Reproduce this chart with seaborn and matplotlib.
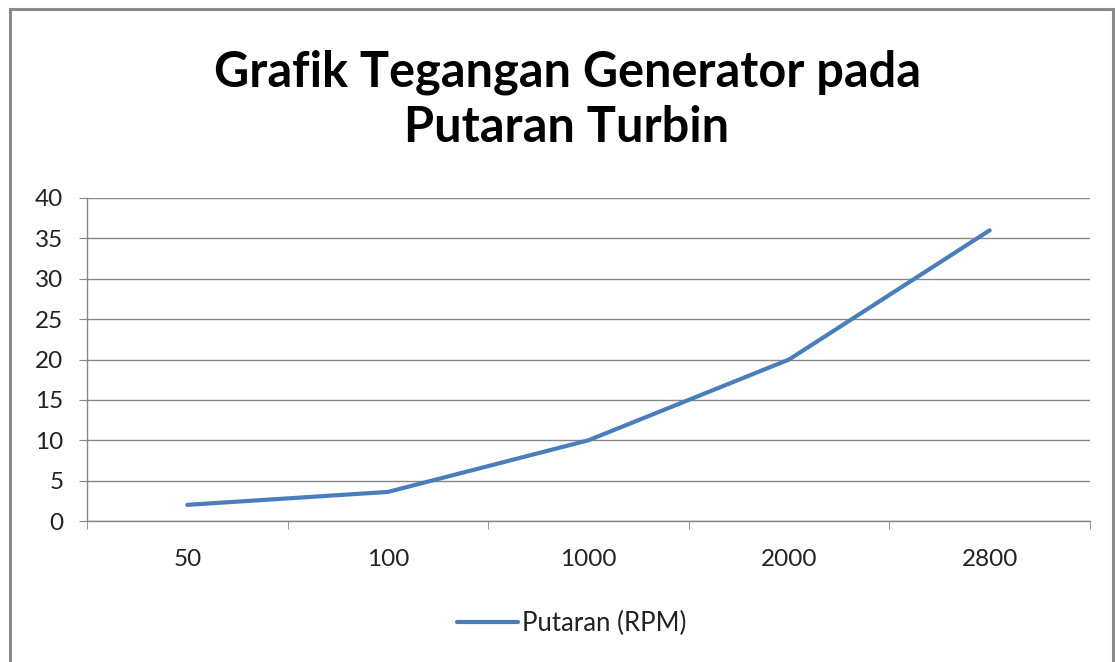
import matplotlib
matplotlib.use("Agg")
import matplotlib.pyplot as plt
import seaborn as sns
import pandas as pd
from matplotlib.patches import Rectangle
from matplotlib.ticker import FixedLocator

# values
rpm_labels = ["50", "100", "1000", "2000", "2800"]
tegangan = [2.0, 3.6, 10.0, 20.0, 36.0]
series_name = "Putaran (RPM)"

data = pd.DataFrame({"rpm": rpm_labels, "tegangan": tegangan})

sns.set_style("white")
plt.rcParams["font.family"] = ["Lato", "DejaVu Sans"]

W, H = 1115, 662
fig = plt.figure(figsize=(W / 100, H / 100), dpi=100)
ax = fig.add_axes([87 / W, 1 - 521 / H, 1003 / W, 323 / H])

# outer chart frame, cropped at right/bottom like the screenshot
fig.patches.append(Rectangle((10 / W, -0.02), (1113 - 10) / W, 1.02 - 8.5 / H,
                             transform=fig.transFigure, fill=False,
                             edgecolor="#8a8a8a", linewidth=2.2))

sns.lineplot(data=data, x="rpm", y="tegangan", ax=ax, color="#4a7ebb",
             linewidth=3, label=series_name, sort=False)

ax.set_xlim(-0.5, len(rpm_labels) - 0.5)
ax.set_ylim(0, 40)
ax.set_yticks(range(0, 41, 5))
ax.set_xlabel("")
ax.set_ylabel("")

# gridlines and axes in Excel gray
ax.yaxis.grid(True, color="#868686", linewidth=1)
ax.xaxis.grid(False)
for side in ["top", "right"]:
    ax.spines[side].set_visible(False)
for side in ["left", "bottom"]:
    ax.spines[side].set_color("#868686")
    ax.spines[side].set_linewidth(1)

ax.tick_params(axis="y", length=6, color="#868686", labelsize=17.5, pad=11,
               left=True, labelcolor="#222222")
ax.tick_params(axis="x", which="major", length=0, labelsize=17.5, pad=20,
               labelcolor="#222222")
ax.xaxis.set_minor_locator(FixedLocator([i - 0.5 for i in range(len(rpm_labels) + 1)]))
ax.tick_params(axis="x", which="minor", length=6, color="#868686", bottom=True)

fig.text(567 / W, 1 - 100 / H, "Grafik Tegangan Generator pada\nPutaran Turbin",
         fontsize=35, fontweight="bold", ha="center", va="center",
         linespacing=1.28, color="black")

ax.legend(loc="center", bbox_to_anchor=(0.483, -0.318), frameon=False,
          fontsize=18.5, handlelength=2.4, handletextpad=0.15,
          labelcolor="#222222")

fig.savefig("out.png", dpi=100)
